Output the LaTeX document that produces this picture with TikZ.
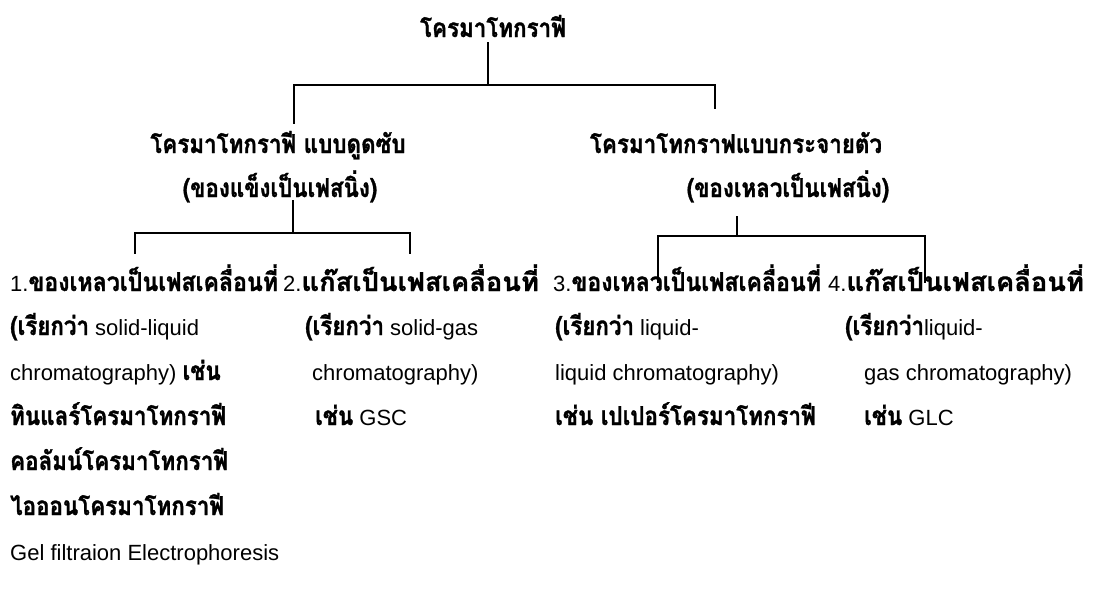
\documentclass[tikz,border=0pt]{standalone}
\usepackage{fontspec}
\setmainfont{Liberation Sans}
\newfontfamily\thaif[Script=Thai,FakeStretch=0.86,BoldFeatures={FakeBold=1.2}]{Loma}
\newfontfamily\thaiw[Script=Thai,FakeStretch=0.89,BoldFeatures={FakeBold=1.2}]{Loma}
\newfontfamily\thaiww[Script=Thai,FakeStretch=1.05,BoldFeatures={FakeBold=1.2}]{Loma}
\newcommand\T[1]{{\thaif\bfseries\fontsize{26}{30}\selectfont #1}}
\newcommand\TA[1]{{\thaiw\bfseries\fontsize{26}{30}\selectfont #1}}
\newcommand\TB[1]{{\thaiww\bfseries\fontsize{26}{30}\selectfont #1}}
\begin{document}
\begin{tikzpicture}[x=1pt,y=-1pt,
  txt/.style={anchor=base west,inner sep=0pt,font=\fontsize{22}{26}\selectfont},
  head/.style={anchor=base,inner sep=0pt,font=\fontsize{22}{26}\selectfont},
  tree/.style={line width=1.6pt,line cap=rect}]
\useasboundingbox (0,0) rectangle (1108,613);
% level 0
\node[head] (title) at (493,37) {\T{โครมาโทกราฟี}};
% level 1
\node[head] (a1) at (278,153) {\T{โครมาโทกราฟี แบบดูดซับ}};
\node[head] (a2) at (280,197) {\T{(ของแข็งเป็นเฟสนิ่ง)}};
\node[head] (b1) at (736,153) {\T{โครมาโทกราฟแบบกระจายตัว}};
\node[head] (b2) at (788,197) {\T{(ของเหลวเป็นเฟสนิ่ง)}};
% level 2 headers
\node[txt] (h1) at (10,291) {1.\TA{ของเหลวเป็นเฟสเคลื่อนที่}};
\node[txt] (h2) at (283,291) {2.\TB{แก๊สเป็นเฟสเคลื่อนที่}};
\node[txt] (h3) at (553,291) {3.\TA{ของเหลวเป็นเฟสเคลื่อนที่}};
\node[txt] (h4) at (828,291) {4.\TB{แก๊สเป็นเฟสเคลื่อนที่}};
% column 1
\node[txt] (c1a) at (10,335) {\T{(เรียกว่า} solid-liquid};
\node[txt] (c1b) at (10,380) {chromatography) \T{เช่น}};
\node[txt] (c1c) at (10,425) {\T{ทินแลร์โครมาโทกราฟี}};
\node[txt] (c1d) at (10,470) {\T{คอลัมน์โครมาโทกราฟี}};
\node[txt] (c1e) at (10,515) {\T{ไอออนโครมาโทกราฟี}};
\node[txt] (c1f) at (10,560) {Gel filtraion Electrophoresis};
% column 2
\node[txt] (c2a) at (305,335) {\T{(เรียกว่า} solid-gas};
\node[txt] (c2b) at (312,380) {chromatography)};
\node[txt] (c2c) at (315,425) {\T{เช่น} GSC};
% column 3
\node[txt] (c3a) at (555,335) {\T{(เรียกว่า} liquid-};
\node[txt] (c3b) at (555,380) {liquid chromatography)};
\node[txt] (c3c) at (555,425) {\T{เช่น เปเปอร์โครมาโทกราฟี}};
% column 4
\node[txt] (c4a) at (845,335) {\T{(เรียกว่า}liquid-};
\node[txt] (c4b) at (864,380) {gas chromatography)};
\node[txt] (c4c) at (864,425) {\T{เช่น} GLC};
% tree lines
\coordinate (t0) at (488,43);
\coordinate (tl) at (294,85);
\coordinate (tr) at (715,85);
\draw[tree] (t0) -- (t0 |- tl);
\draw[tree] (294,123) -- (tl) -- (tr) -- ++(0,23);
\coordinate (ja) at (293,201);
\coordinate (jal) at (135,233);
\coordinate (jar) at (410,233);
\draw[tree] (ja) -- (ja |- jal);
\draw[tree] (jal) ++(0,20) -- (jal) -- (jar) -- ++(0,20);
\coordinate (jb) at (737,217);
\coordinate (jbl) at (658,236);
\coordinate (jbr) at (925,236);
\draw[tree] (jb) -- (jb |- jbl);
\draw[tree] (jbl) ++(0,46) -- (jbl) -- (jbr) -- ++(0,46);
\end{tikzpicture}
\end{document}
